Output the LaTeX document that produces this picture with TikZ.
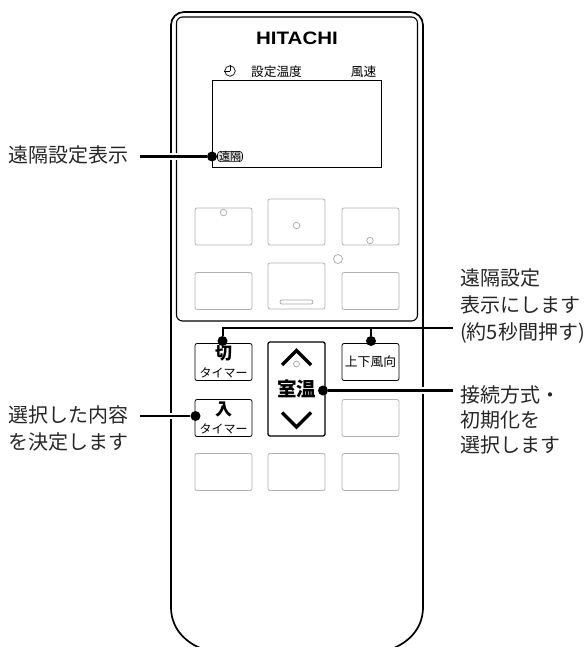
\documentclass[tikz,border=0pt]{standalone}
\usepackage{fontspec}
\setmainfont{Noto Sans CJK JP}
\newfontfamily\logofont{Liberation Sans}
\usetikzlibrary{positioning}

\tikzset{
    key node/.style={draw=black!30, line width=0.8pt, rounded corners=2pt, minimum width=57pt, minimum height=37pt, inner sep=0pt, fill=white},
    live node/.style={key node, draw=black, font=\fontsize{17}{18}\selectfont, align=center},
    pin node/.style={circle, fill=black, inner sep=0pt, minimum size=10pt},
    lamp node/.style={circle, draw=black!35, line width=0.7pt, inner sep=0pt, fill=white},
    note node/.style={anchor=west, align=left, inner sep=0pt, text=black!85},
    note wide/.style={note node, font=\fontsize{20}{27}\selectfont},
    note tight/.style={note node, font=\fontsize{20}{25}\selectfont},
    halo/.style={draw=white, line width=6.5pt},
    lead/.style={draw=black, line width=2.6pt}
}

\begin{document}
\begin{tikzpicture}[x=1pt,y=-1pt]
            \useasboundingbox (0,0) rectangle (586,647);

            % case
            \draw[line width=1.7pt, rounded corners=13pt] (171,607) -- (171,12) -- (423,12) -- (423,607);
            \draw[line width=1.7pt] (171,607) .. controls (171,626) and (182,640) .. (200,648);
            \draw[line width=1.7pt] (423,607) .. controls (423,626) and (412,640) .. (394,648);
            \draw[line width=1.1pt, rounded corners=6pt] (176.5,17) rectangle (417.5,321);

            % top of the panel
            \node (logo) at (297,38) {\logofont\bfseries\fontsize{18}{18}\selectfont\scalebox{1.14}[1]{HITACHI}};
            \node[lamp node, draw=black, minimum size=10.5pt] (clock) at (230,71) {};
            \draw[line width=0.7pt] (clock.center) -- (clock.north) (clock.center) -- (clock.west);
            \node[font=\fontsize{12.7}{13}\selectfont] (settemp) at (276.5,71.5) {設定温度};
            \node[font=\fontsize{12.7}{13}\selectfont] (fanspeed) at (363.5,71.5) {風速};
            \node[draw, line width=0.9pt, minimum width=169pt, minimum height=87pt, inner sep=0pt] (lcd) at (296.5,123.5) {};
            \node[draw, fill=black!12, rounded corners=3pt, line width=0.6pt, inner xsep=1.5pt, inner ysep=0pt, font=\fontsize{11}{11}\selectfont] (remote) at (230,156.5) {遠隔};

            % upper keys
            \node[key node] (k1) at (223.5,226.5) {};
            \node[key node, minimum height=46pt] (k2) at (296.5,222) {};
            \node[key node] (k3) at (370.5,226.5) {};
            \node[key node] (k4) at (223.5,291) {};
            \node[key node, minimum height=46pt] (k5) at (296.5,286) {};
            \node[key node] (k6) at (370.5,291) {};
            \node[lamp node, minimum size=6.5pt] (d1) at (223.5,212.5) {};
            \node[lamp node, minimum size=6.5pt] (d2) at (296.5,225.5) {};
            \node[lamp node, minimum size=6.5pt] (d3) at (370,240.5) {};
            \node[lamp node, minimum size=9pt] (d4) at (338,259) {};
            \node[draw=black!35, line width=0.7pt, rounded corners=2pt, minimum width=33pt, minimum height=4pt, inner sep=0pt] (slot) at (296.5,302) {};

            % lower keys
            \node[live node] (off) at (223.5,362) {\textbf{切}\\{\fontsize{12}{18}\selectfont タイマー}};
            \node[live node] (on) at (223.5,418) {\textbf{入}\\{\fontsize{12}{18}\selectfont タイマー}};
            \node[live node, font=\fontsize{12.8}{15}\selectfont] (swing) at (370.5,362) {上下風向};
            \node[live node, line width=1.3pt, minimum height=94pt, font=\fontsize{19.5}{20}\selectfont\bfseries] (room) at (296.5,389) {室温};
            \node[key node] (k7) at (370.5,418) {};
            \node[key node] (k8) at (223.5,472) {};
            \node[key node] (k9) at (296.5,472) {};
            \node[key node] (k10) at (370.5,472) {};
            \draw[line width=3.4pt] (282,365) -- (296.5,350.5) -- (311,365);
            \draw[line width=3.4pt] (282,412.5) -- (296.5,427) -- (311,412.5);
            \node[lamp node, minimum size=6pt] (d5) at (296.5,364) {};

            % labels
            \node[note wide] (note1) at (8,155) {遠隔設定表示};
            \node[note wide] (note2) at (460,306.5) {遠隔設定\\表示にします\\(約5秒間押す)};
            \node[note tight] (note3) at (460,420) {接続方式・\\初期化を\\選択します};
            \node[note wide] (note4) at (8,428.5) {選択した内容\\を決定します};

            % pins
            \node[pin node] (pin1) at (212,156.5) {};
            \node[pin node] (pin2) at (222.5,341) {};
            \node[pin node] (pin3) at (371,341) {};
            \node[pin node] (pin4) at (323,390.5) {};
            \node[pin node] (pin5) at (195.5,416) {};

            \coordinate (end1) at (140,156.5);
            \coordinate (end2) at (453,328);
            \coordinate (end3) at (453,390.5);
            \coordinate (end4) at (140,416);

            % leaders
            \draw[halo] (end1) -- (pin1);
            \draw[halo] (end3) -- (pin4);
            \draw[halo] (end4) -- (pin5);
            \draw[lead] (end1) -- (pin1);
            \draw[lead] (end3) -- (pin4);
            \draw[lead] (end4) -- (pin5);
            \draw[draw=white, line width=5.5pt] (end2) -- (425,328);
            \draw[lead, line width=2pt] (end2) -- (222.5,328) -- (pin2);
            \draw[lead, line width=2pt] (371,328) -- (pin3);

            ;
        \end{tikzpicture}
\end{document}
